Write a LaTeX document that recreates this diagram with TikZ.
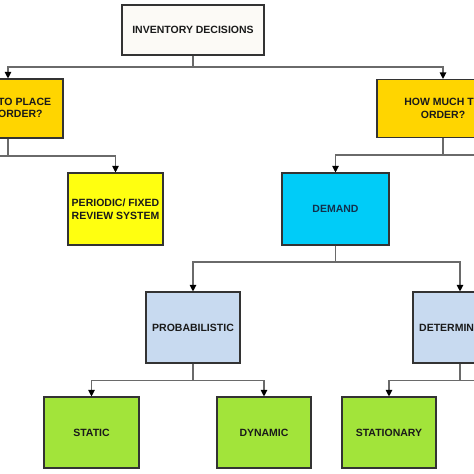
\documentclass[tikz,border=0pt]{standalone}
\usepackage{fontspec}
\setmainfont{Liberation Sans}
\usetikzlibrary{arrows.meta}
\definecolor{linegray}{HTML}{6A6A6A}
\definecolor{bordergray}{HTML}{333333}
\definecolor{cream}{HTML}{FCFAF6}
\definecolor{goldbox}{HTML}{FFD500}
\definecolor{yellowbox}{HTML}{FFFF10}
\definecolor{cyanbox}{HTML}{00CCF8}
\definecolor{paleblue}{HTML}{C8DAF0}
\definecolor{greenbox}{HTML}{A2E43A}
\definecolor{txt}{HTML}{1A1A1A}
\definecolor{navytxt}{HTML}{12304C}
\tikzset{
  box/.style={draw=bordergray, line width=1.1pt, inner sep=0pt, align=center,
    font=\fontsize{10.5}{12.5}\selectfont\bfseries, text=txt},
  lbl/.style={inner sep=0pt, font=\fontsize{10.5}{12.5}\selectfont\bfseries, text=txt},
  conn/.style={draw=linegray, line width=1.1pt},
  arr/.style={conn, -{Triangle[width=6.5pt,length=6.5pt,color=black,fill=black]}}
}
\begin{document}
\begin{tikzpicture}[x=1pt,y=-1pt]
\useasboundingbox (0,0) rectangle (474,474);
\clip (0,0) rectangle (474,474);
\fill[white] (0,0) rectangle (474,474);

% boxes
\node[box, fill=cream, minimum width=142pt, minimum height=50pt] (inv) at (193,30) {INVENTORY DECISIONS};
\node[box, fill=goldbox, minimum width=110pt, minimum height=59pt] (when) at (8,108.5) {};
\node[lbl, align=left, anchor=west] (whentxt) at (-2,108) {TO PLACE\\ORDER?};
\node[box, fill=goldbox, minimum width=132pt, minimum height=58pt] (how) at (443,108.5) {HOW MUCH TO\\ORDER?};
\node[box, fill=yellowbox, minimum width=95pt, minimum height=72pt] (per) at (115.5,209) {PERIODIC/ FIXED\\REVIEW SYSTEM};
\node[box, fill=cyanbox, text=navytxt, minimum width=107pt, minimum height=72pt] (dem) at (335.5,209) {DEMAND};
\node[box, fill=paleblue, minimum width=94pt, minimum height=71pt] (prob) at (193,327.5) {PROBABILISTIC};
\node[box, fill=paleblue, minimum width=94pt, minimum height=71pt] (det) at (460,327.5) {DETERMINISTIC};
\node[box, fill=greenbox, minimum width=95pt, minimum height=71pt] (stat) at (91.5,432.5) {STATIC};
\node[box, fill=greenbox, minimum width=94pt, minimum height=71pt] (dyn) at (264,432.5) {DYNAMIC};
\node[box, fill=greenbox, minimum width=94pt, minimum height=71pt] (stn) at (389,432.5) {STATIONARY};

% junctions
\coordinate (j1) at (193,67);
\coordinate (j2) at (8,156);
\coordinate (offL) at (-10,156);
\coordinate (j3) at (443,155);
\coordinate (offR1) at (484,155);
\coordinate (j4) at (335.5,262);
\coordinate (j5) at (193,380.5);
\coordinate (j6) at (460,380.5);
\coordinate (offR2) at (484,380.5);

% connectors
\draw[conn] (inv.south) -- (j1);
\draw[arr] (j1) -| (when.north);
\draw[arr] (j1) -| (how.north);
\draw[conn] (when.south) -- (j2) -- (offL);
\draw[arr] (j2) -| (per.north);
\draw[conn] (how.south) -- (j3) -- (offR1);
\draw[arr] (j3) -| (dem.north);
\draw[conn] (dem.south) -- (j4);
\draw[arr] (j4) -| (prob.north);
\draw[arr] (j4) -| (det.north);
\draw[conn] (prob.south) -- (j5);
\draw[arr] (j5) -| (stat.north);
\draw[arr] (j5) -| (dyn.north);
\draw[conn] (det.south) -- (j6) -- (offR2);
\draw[arr] (j6) -| (stn.north);
\end{tikzpicture}
\end{document}
